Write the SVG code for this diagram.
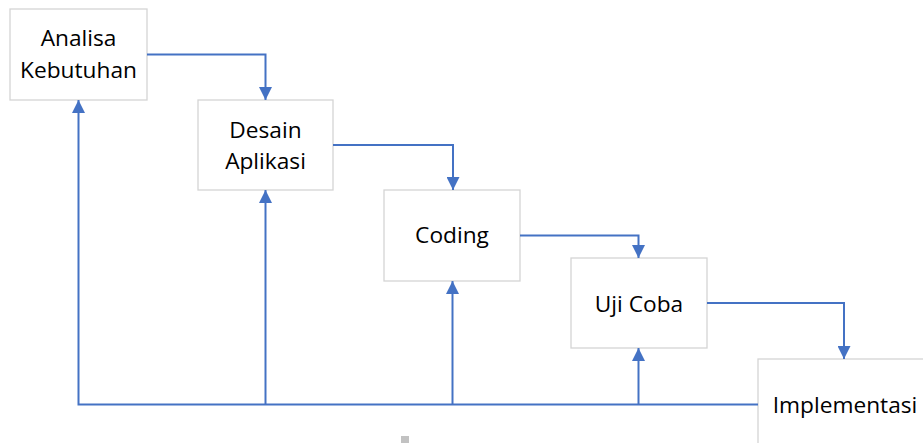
<svg xmlns="http://www.w3.org/2000/svg" width="923" height="443" viewBox="0 0 923 443">
  <style>
    .box { fill: #ffffff; stroke: #d4d4d4; stroke-width: 1.3; }
    .label { font-family: "Open Sans", "Liberation Sans", sans-serif; font-size: 22.7px; fill: #000000; text-anchor: middle; }
    .link { fill: none; stroke: #4472c4; stroke-width: 2; }
  </style>
  <defs>
    <marker id="arrow" viewBox="0 0 13 13" refX="13" refY="6.5" markerWidth="13" markerHeight="13" markerUnits="userSpaceOnUse" orient="auto">
      <path d="M0,0 L13,6.5 L0,13 Z" fill="#4472c4"/>
    </marker>
  </defs>
  <rect width="923" height="443" fill="#ffffff"/>

  <g id="analisa">
    <rect class="box" x="10" y="9" width="137" height="91"/>
    <text class="label" x="78.5" y="46">Analisa</text>
    <text class="label" x="78.5" y="78">Kebutuhan</text>
  </g>
  <g id="desain">
    <rect class="box" x="198" y="100" width="135" height="90"/>
    <text class="label" x="265.5" y="138">Desain</text>
    <text class="label" x="265.5" y="169">Aplikasi</text>
  </g>
  <g id="coding">
    <rect class="box" x="384" y="190" width="136" height="91"/>
    <text class="label" x="452" y="243">Coding</text>
  </g>
  <g id="ujicoba">
    <rect class="box" x="571" y="258" width="136" height="90"/>
    <text class="label" x="639" y="312">Uji Coba</text>
  </g>
  <g id="implementasi">
    <rect class="box" x="758" y="359" width="180" height="100"/>
    <text class="label" x="845" y="413">Implementasi</text>
  </g>

  <g id="connectors">
    <path class="link" d="M147,54.5 H265.5 V100" marker-end="url(#arrow)"/>
    <path class="link" d="M333,145 H453 V190" marker-end="url(#arrow)"/>
    <path class="link" d="M520,235.5 H638.5 V258" marker-end="url(#arrow)"/>
    <path class="link" d="M707,303 H844 V359" marker-end="url(#arrow)"/>
    <path class="link" d="M758,404.5 H78.5 V100" marker-end="url(#arrow)"/>
    <path class="link" d="M265.5,404.5 V190" marker-end="url(#arrow)"/>
    <path class="link" d="M452.5,404.5 V281" marker-end="url(#arrow)"/>
    <path class="link" d="M638.5,404.5 V348" marker-end="url(#arrow)"/>
  </g>

  <rect x="401" y="436" width="8" height="7" fill="#9a9a9a" opacity="0.6"/>
</svg>
